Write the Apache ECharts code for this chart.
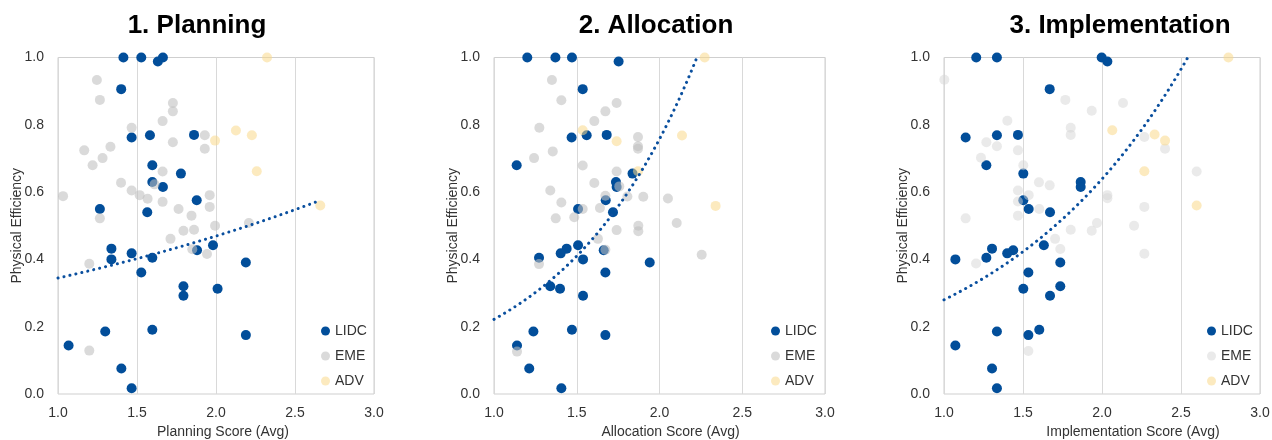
<!DOCTYPE html>
<html><head><meta charset="utf-8">
<script src="https://cdn.jsdelivr.net/npm/echarts@6/dist/echarts.min.js"></script>
<style>html,body{margin:0;padding:0;background:#fff}#c{width:1272px;height:440px}</style>
</head><body><div id="c"></div>
<script>
// ---------------- DATA ----------------
const panelTitles = ['1. Planning', '2. Allocation', '3. Implementation'];
const xAxisNames = ['Planning Score (Avg)', 'Allocation Score (Avg)', 'Implementation Score (Avg)'];
const yAxisName = 'Physical Efficiency';
const seriesNames = ['LIDC', 'EME', 'ADV'];
const xTicks = [1.0, 1.5, 2.0, 2.5, 3.0];
const yTicks = [0.0, 0.2, 0.4, 0.6, 0.8, 1.0];

// LIDC: shared efficiency values, one score per panel
const lidcEff = [1.0,1.0,1.0,0.988,0.906,0.762,0.769,0.770,0.680,0.655,0.630,0.615,0.576,0.550,0.540,0.442,0.432,0.427,0.418,0.405,0.400,0.391,0.361,0.320,0.313,0.292,0.191,0.186,0.175,0.144,0.076,0.017];
const lidcPlanning = [1.414,1.527,1.664,1.632,1.400,1.466,1.582,1.861,1.597,1.778,1.597,1.664,1.878,1.265,1.565,1.981,1.338,1.880,1.466,1.597,1.338,2.189,1.527,1.794,2.010,1.794,1.597,1.299,2.189,1.067,1.401,1.466];
const lidcAllocation = [1.201,1.371,1.471,1.753,1.536,1.469,1.560,1.681,1.137,1.837,1.737,1.741,1.675,1.508,1.719,1.508,1.439,1.663,1.403,1.272,1.538,1.941,1.673,1.340,1.399,1.538,1.471,1.238,1.673,1.139,1.213,1.407];
const lidcImplementation = [1.204,1.335,1.998,2.034,1.669,1.137,1.335,1.468,1.268,1.502,1.865,1.865,1.502,1.536,1.671,1.632,1.304,1.438,1.400,1.268,1.072,1.736,1.534,1.736,1.502,1.671,1.603,1.335,1.534,1.072,1.304,1.335];

// EME: [score, efficiency]
const emePlanning = [[1.246,0.933],[1.265,0.874],[1.727,0.865],[1.727,0.840],[1.662,0.811],[1.466,0.791],[1.929,0.769],[1.929,0.729],[1.727,0.748],[1.166,0.724],[1.332,0.735],[1.282,0.701],[1.219,0.680],[1.662,0.661],[1.399,0.628],[1.611,0.623],[1.032,0.588],[1.466,0.605],[1.517,0.591],[1.567,0.580],[1.662,0.571],[1.960,0.591],[1.960,0.556],[1.763,0.550],[1.845,0.530],[1.265,0.522],[1.994,0.500],[1.794,0.485],[1.861,0.488],[2.208,0.508],[1.712,0.461],[1.850,0.430],[1.943,0.416],[1.198,0.387],[1.198,0.129]];
const emeAllocation = [[1.350,0.933],[1.407,0.873],[1.741,0.865],[1.673,0.840],[1.606,0.811],[1.274,0.791],[1.870,0.764],[1.870,0.736],[1.870,0.729],[1.355,0.721],[1.242,0.701],[1.536,0.679],[1.741,0.661],[1.606,0.627],[1.340,0.605],[1.757,0.617],[1.407,0.569],[1.673,0.589],[1.806,0.587],[1.902,0.586],[2.051,0.581],[1.640,0.553],[1.536,0.550],[1.373,0.522],[1.485,0.525],[2.104,0.508],[1.872,0.500],[1.872,0.484],[1.741,0.487],[1.628,0.461],[1.673,0.429],[2.255,0.414],[1.272,0.386],[1.139,0.126]];
const emeImplementation = [[1.002,0.934],[1.768,0.874],[2.133,0.865],[1.935,0.842],[1.401,0.812],[1.802,0.791],[1.802,0.770],[2.268,0.764],[2.399,0.729],[1.268,0.748],[1.335,0.736],[1.468,0.724],[1.234,0.702],[1.502,0.680],[2.599,0.661],[1.601,0.629],[1.669,0.620],[1.468,0.605],[1.536,0.591],[1.468,0.572],[2.034,0.591],[2.034,0.582],[2.268,0.556],[1.603,0.550],[1.137,0.522],[1.468,0.530],[1.968,0.508],[2.203,0.500],[1.802,0.488],[1.935,0.485],[1.703,0.461],[1.736,0.431],[2.268,0.417],[1.203,0.388],[1.534,0.128]];

// ADV: [score, efficiency]
const advPlanning = [[2.323,1.0],[1.994,0.753],[2.126,0.783],[2.227,0.769],[2.258,0.662],[2.660,0.560]];
const advAllocation = [[2.273,1.0],[2.136,0.768],[2.339,0.559],[1.536,0.784],[1.741,0.751],[1.870,0.662]];
const advImplementation = [[2.800,1.0],[2.065,0.784],[2.333,0.771],[2.399,0.753],[2.268,0.662],[2.599,0.560]];

// Exponential trendline y = a * exp(b * x)
const trendA = [0.253, 0.065, 0.1227];
const trendB = [0.309, 1.228, 0.825];

// ---------------- CHART ----------------
const lidcX = [lidcPlanning, lidcAllocation, lidcImplementation];
const emeData = [emePlanning, emeAllocation, emeImplementation];
const advData = [advPlanning, advAllocation, advImplementation];

const grids = [
  {left: 58, top: 57.5, width: 316, height: 336.5},
  {left: 494, top: 57.5, width: 331, height: 336.5},
  {left: 944, top: 57.5, width: 316, height: 336.5}
];
const titleX = [197, 656, 1120];
const legendLeft = [316, 766, 1202];
const xNameShift = [14, 22, 62];
const blue = '#024e9a';
const emeColors = ['#bfbfbf', '#bfbfbf', '#d6d6d6'];
const emeOpacity = [0.58, 0.58, 0.5];
const advColor = '#fad88a';
const labelColor = '#333333';
const font = 'Liberation Sans, Arial, sans-serif';

function trendPoints(i) {
  const all = [].concat(lidcX[i], emeData[i].map(d => d[0]), advData[i].map(d => d[0]));
  const maxX = Math.max.apply(null, all);
  const pts = [];
  for (let x = xTicks[0]; x <= maxX + 1e-9; x += 0.01) {
    const y = trendA[i] * Math.exp(trendB[i] * x);
    if (y > 1.0) { pts.push([Math.log(1 / trendA[i]) / trendB[i], 1.0]); break; }
    pts.push([x, y]);
  }
  return pts;
}

const option = {
  animation: false,
  backgroundColor: '#fff',
  textStyle: {fontFamily: font},
  grid: grids.map(g => Object.assign({show: true, borderColor: '#cfcfcf', borderWidth: 1, backgroundColor: 'transparent', containLabel: false, outerBoundsMode: 'none'}, g)),
  xAxis: grids.map((g, i) => ({
    gridIndex: i, type: 'value', min: xTicks[0], max: xTicks[xTicks.length - 1], interval: 0.5,
    name: xAxisNames[i], nameLocation: 'middle', nameGap: 31, nameMoveOverlap: false,
    nameTextStyle: {fontSize: 14, color: labelColor, fontFamily: font, padding: [0, 0, 0, xNameShift[i]]},
    axisLine: {show: false}, axisTick: {show: false},
    axisLabel: {fontSize: 14, color: labelColor, margin: 12, fontFamily: font, formatter: v => v.toFixed(1)},
    splitLine: {show: true, lineStyle: {color: '#d9d9d9', width: 1}}
  })),
  yAxis: grids.map((g, i) => ({
    gridIndex: i, type: 'value', min: yTicks[0], max: yTicks[yTicks.length - 1], interval: 0.2,
    name: yAxisName, nameLocation: 'middle', nameGap: 34, nameMoveOverlap: false,
    nameTextStyle: {fontSize: 14, color: labelColor, fontFamily: font},
    axisLine: {show: false}, axisTick: {show: false},
    axisLabel: {fontSize: 14, color: labelColor, margin: 14, fontFamily: font, formatter: v => v.toFixed(1)},
    splitLine: {show: false}
  })),
  legend: grids.map((g, i) => ({
    orient: 'vertical', left: legendLeft[i], top: 319, itemWidth: 9, itemHeight: 9, itemGap: 11,
    icon: 'circle', selectedMode: false,
    textStyle: {fontSize: 14, color: labelColor, lineHeight: 14, fontFamily: font},
    data: [
      {name: seriesNames[0], itemStyle: {color: blue, opacity: 1}},
      {name: seriesNames[1], itemStyle: {color: emeColors[i], opacity: emeOpacity[i]}},
      {name: seriesNames[2], itemStyle: {color: advColor, opacity: 0.55}}
    ]
  })),
  graphic: panelTitles.map((t, i) => ({
    type: 'text', x: titleX[i], y: 13,
    style: {text: t, font: 'bold 26px Liberation Sans, Arial, sans-serif', fill: '#000', align: 'center', verticalAlign: 'top'}
  })),
  series: []
};

for (let i = 0; i < 3; i++) {
  option.series.push({
    name: seriesNames[0], type: 'scatter', xAxisIndex: i, yAxisIndex: i, symbolSize: 10,
    itemStyle: {color: blue, opacity: 1},
    data: lidcX[i].map((x, k) => [x, lidcEff[k]])
  });
  option.series.push({
    name: seriesNames[1], type: 'scatter', xAxisIndex: i, yAxisIndex: i, symbolSize: 10,
    itemStyle: {color: emeColors[i], opacity: emeOpacity[i]},
    data: emeData[i]
  });
  option.series.push({
    name: seriesNames[2], type: 'scatter', xAxisIndex: i, yAxisIndex: i, symbolSize: 10,
    itemStyle: {color: advColor, opacity: 0.55},
    data: advData[i]
  });
  option.series.push({
    name: 'trend', type: 'line', xAxisIndex: i, yAxisIndex: i, showSymbol: false, symbol: 'none',
    smooth: false, silent: true, z: 5,
    lineStyle: {color: '#0a4f9e', width: 3, type: [0.1, 6], cap: 'round'},
    data: trendPoints(i)
  });
}

const chart = echarts.init(document.getElementById('c'), null, {renderer: 'canvas'});
chart.setOption(option);
</script>
</body></html>
